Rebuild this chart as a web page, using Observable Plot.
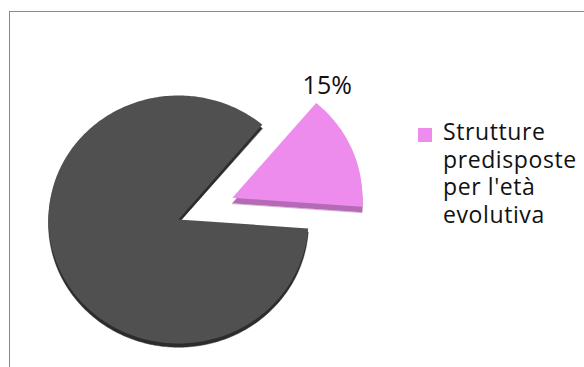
<!DOCTYPE html>
<html>
<head>
<meta charset="utf-8">
<script src="https://cdn.jsdelivr.net/npm/d3@7"></script>
<script src="https://cdn.jsdelivr.net/npm/@observablehq/plot@0.6"></script>
<style>
  html, body { margin: 0; padding: 0; background: #fff; }
  #wrap { position: relative; width: 584px; height: 367px; overflow: hidden; background: #fff; }
  #frame { position: absolute; left: 9px; top: 11px; width: 640px; height: 420px; border: 1.5px solid #8a8a8a; box-sizing: border-box; }
  #chart { position: absolute; left: 0; top: 0; }
  #legend { position: absolute; left: 418px; top: 118px; font-family: "Open Sans", "Noto Sans", sans-serif; font-size: 23px; letter-spacing: 0.6px; line-height: 27.5px; color: #111; display: flex; align-items: flex-start; }
  #legend .sw { width: 14px; height: 14px; margin-top: 10px; margin-right: 11px; flex: none; }
  #legend .lbl { width: 160px; }
</style>
</head>
<body>
<div id="wrap">
  <div id="frame"></div>
  <div id="chart"></div>
  <div id="legend"></div>
</div>
<script>
// --- data ---
const categories = ["Strutture predisposte per l'età evolutiva", "Altro"];
const values = [15, 85];
const labels = ["15%", ""];
const colors = ["#ee8cee", "#505050"];
const sideColors = ["#b46ab4", "#2c2c2c"];
const explode = [0.45, 0];
const depths = [0.045, 0.03];

// --- geometry (unit pie) ---
const pie = d3.pie().sort(null).startAngle(0.70).endAngle(0.70 + 2 * Math.PI);
const arcs = pie(values);

function slicePoints(a, i, dy) {
  const mid = (a.startAngle + a.endAngle) / 2;
  const ox = explode[i] * Math.sin(mid);
  const oy = explode[i] * Math.cos(mid);
  const pts = [{x: ox, y: oy - dy}];
  const n = Math.max(8, Math.ceil((a.endAngle - a.startAngle) * 60));
  for (let k = 0; k <= n; k++) {
    const t = a.startAngle + (a.endAngle - a.startAngle) * k / n;
    pts.push({x: ox + Math.sin(t), y: oy + Math.cos(t) - dy});
  }
  return pts;
}

const marks = [];
arcs.forEach((a, i) => {
  marks.push(Plot.line(slicePoints(a, i, depths[i]), {x: "x", y: "y", fill: sideColors[i], stroke: sideColors[i], strokeWidth: 0.5, curve: "linear-closed"}));
});
arcs.forEach((a, i) => {
  marks.push(Plot.line(slicePoints(a, i, 0), {x: "x", y: "y", fill: colors[i], stroke: "none", curve: "linear-closed"}));
});

const labelData = arcs.map((a, i) => {
  const mid = (a.startAngle + a.endAngle) / 2;
  const ox = explode[i] * Math.sin(mid);
  const oy = explode[i] * Math.cos(mid);
  const t = a.startAngle - 0.02;
  return {x: ox + 1.16 * Math.sin(t), y: oy + 1.16 * Math.cos(t), text: labels[i]};
}).filter(d => d.text);

marks.push(Plot.text(labelData, {x: "x", y: "y", text: "text", fontSize: 25, fill: "#111", textAnchor: "middle", lineAnchor: "middle", fontFamily: "'Open Sans', 'Noto Sans', sans-serif"}));

const W = 584, H = 367;
const cx = 178, cy = 219, rx = 130, ry = 124;
const chart = Plot.plot({
  width: W, height: H,
  margin: 0,
  x: {domain: [-cx / rx, (W - cx) / rx], axis: null},
  y: {domain: [-(H - cy) / ry, cy / ry], axis: null},
  style: {background: "transparent", overflow: "visible"},
  marks
});
document.getElementById("chart").appendChild(chart);

// legend (only the visible entry)
const lg = document.getElementById("legend");
const sw = document.createElement("div");
sw.className = "sw"; sw.style.background = colors[0];
const lb = document.createElement("div");
lb.className = "lbl"; lb.textContent = categories[0];
lg.appendChild(sw); lg.appendChild(lb);
</script>
</body>
</html>
